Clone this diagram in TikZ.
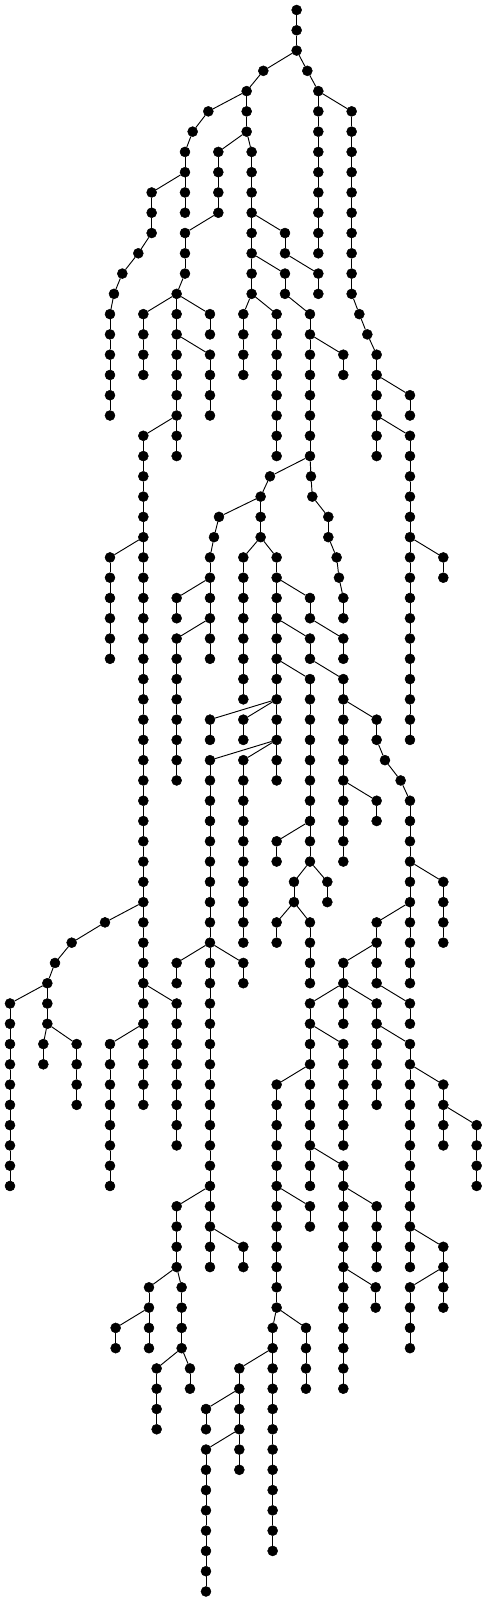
\documentclass[tikz,border=0pt]{standalone}
\usepackage{tikz}

\begin{document}
\begin{tikzpicture}[x=0.1mm, y=6.083mm]
\tikzstyle{vertex}=[circle, draw=black, fill=black, inner sep = 0mm, minimum size = 3mm]
\tikzstyle{edge}=[line width = 0.8pt]

\useasboundingbox (0,0.493) rectangle (1461,-78.47);

% column x / first row / last row / parent of first row
\def\chains{790/3/3/v890-2, 922/3/3/v890-2, 740/4/6/v790-3, 625/5/5/v740-4,
578/6/6/v625-5, 555/7/10/v578-6, 455/9/11/v555-8, 415/12/12/v455-11,
367/13/13/v415-12, 342/14/14/v367-13, 330/15/20/v342-14,
655/7/10/v740-6, 755/7/14/v740-6, 555/11/13/v655-10, 530/14/22/v555-13,
430/15/18/v530-14, 630/15/16/v530-14, 630/17/20/v530-16, 430/21/54/v530-20,
330/27/32/v430-26, 315/45/45/v430-44, 215/46/46/v315-45, 165/47/47/v215-46,
142/48/50/v165-47, 30/49/58/v142-48, 130/51/52/v142-50, 230/51/54/v142-50,
330/51/58/v430-50, 530/49/56/v430-48,
855/11/12/v755-10, 955/13/14/v855-12, 855/13/14/v755-12, 930/15/22/v855-14,
730/15/18/v755-14, 830/15/22/v755-14, 1030/17/18/v930-16,
810/23/23/v930-22, 933/23/23/v930-22, 937/24/24/v933-23, 985/25/26/v937-24,
1010/27/27/v985-26, 1017/28/28/v1010-27, 1030/29/30/v1017-28,
782/24/26/v810-23, 657/25/25/v782-24, 642/26/26/v657-25, 630/27/32/v642-26,
530/29/30/v630-28, 530/31/38/v630-30, 730/27/34/v782-26, 830/27/38/v782-26,
930/29/30/v830-28, 1030/31/32/v930-30, 930/31/32/v830-30, 1030/33/42/v930-32,
930/33/42/v830-32, 630/35/36/v830-34, 730/35/36/v830-34, 630/37/62/v830-36,
730/37/46/v830-36, 830/41/42/v930-40, 882/43/44/v930-42, 982/43/44/v930-42,
830/45/46/v882-44, 930/45/48/v882-44,
1130/35/36/v1030-34, 1155/37/37/v1130-36, 1202/38/38/v1155-37,
1230/39/48/v1202-38, 1130/39/40/v1030-38, 1330/43/46/v1230-42,
1130/45/48/v1230-44, 1030/47/50/v1130-46, 930/49/58/v1030-48,
1130/49/54/v1030-48, 1230/49/50/v1130-48, 1230/51/62/v1130-50,
1030/51/56/v930-50, 830/53/64/v930-52, 1030/57/68/v930-56, 930/59/60/v830-58,
1130/59/62/v1030-58, 1127/63/64/v1030-62, 818/65/76/v830-64, 918/65/68/v830-64,
718/67/72/v818-66, 618/69/70/v718-68, 618/71/78/v718-70,
1330/53/56/v1230-52, 1430/55/58/v1330-54, 1330/61/64/v1230-60,
1230/63/66/v1330-62,
530/47/48/v630-46, 730/47/48/v630-46, 530/59/62/v630-58, 730/61/62/v630-60,
447/63/66/v530-62, 545/63/66/v530-62, 347/65/66/v447-64, 470/67/70/v545-66,
570/67/68/v545-66,
955/4/12/v922-3, 1055/5/14/v955-4, 1078/15/15/v1055-14, 1102/16/16/v1078-15,
1130/17/22/v1102-16, 1230/19/20/v1130-18, 1230/21/36/v1130-20,
1330/27/28/v1230-26}

\foreach \r in {0,1,2} {
\node [vertex] (v890-\r) at (890,-\r) {};
}
\foreach \x/\a/\b/\p in \chains
\foreach \r in {\a,...,\b} {
\node [vertex] (v\x-\r) at (\x,-\r) {};
}

\draw [edge] (v890-0) -- (v890-1) -- (v890-2);
\foreach \x/\a/\b/\p in \chains {
\draw [edge] (\p) -- (v\x-\a);
\foreach \r in {\a,...,\b} {
\ifnum\r>\a
\pgfmathtruncatemacro{\q}{\r-1}
\draw [edge] (v\x-\q) -- (v\x-\r);
\fi
}
}

\end{tikzpicture}
\end{document}
